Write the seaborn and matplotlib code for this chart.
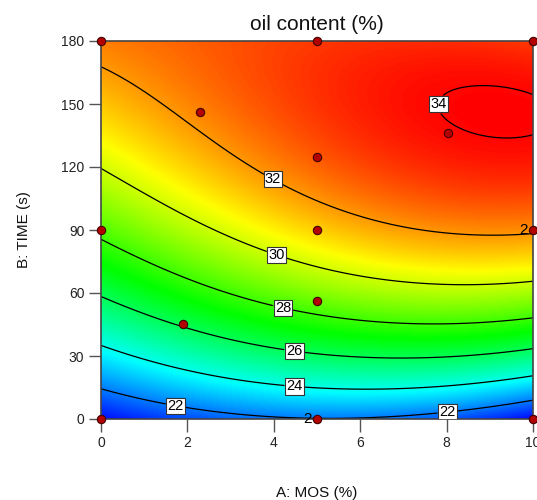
import numpy as np
import matplotlib
matplotlib.use("Agg")
import matplotlib.pyplot as plt
from matplotlib.colors import LinearSegmentedColormap
import pandas as pd
import seaborn as sns

# Factor ranges
mos_range = [0, 10]      # A: MOS (%)
time_range = [0, 180]    # B: TIME (s)

# Fitted response model in coded units (x = (A-5)/5, y = (B-90)/90)
model_terms = ["1", "x", "y", "xy", "x2", "y2", "x2y", "xy2", "x3", "y3"]
model_coefs = [31.223, 2.148, 5.581, 0.267, -1.016, -3.596, 0.533, -1.718, -0.233, 0.091]

contour_levels = [22, 24, 26, 28, 30, 32, 34]
label_spots = [(1.75, 8.6), (8.0, 7.0), (4.49, 17.5), (4.49, 35.0),
               (4.26, 57.0), (4.09, 80.0), (3.99, 114.6), (7.81, 150.0)]

# Design points (replicated runs counted in design_reps)
design_mos = [0, 5, 10, 1.89, 5, 0, 5, 10, 5, 8.04, 2.29, 0, 5, 10]
design_time = [0, 0, 0, 45.1, 56.2, 90, 90, 90, 124.6, 136, 146.2, 180, 180, 180]
design_reps = [1, 2, 1, 1, 1, 1, 1, 2, 1, 1, 1, 1, 1, 1]

xticks = [0, 2, 4, 6, 8, 10]
yticks = [0, 30, 60, 90, 120, 150, 180]

sns.set_theme(style="white")
plt.rcParams["font.family"] = ["Liberation Sans", "DejaVu Sans"]


def response(a, b):
    x = (a - 5) / 5
    y = (b - 90) / 90
    basis = {"1": np.ones_like(x), "x": x, "y": y, "xy": x * y,
             "x2": x ** 2, "y2": y ** 2, "x2y": x ** 2 * y,
             "xy2": x * y ** 2, "x3": x ** 3, "y3": y ** 3}
    return sum(c * basis[t] for t, c in zip(model_terms, model_coefs))


ga = np.linspace(mos_range[0], mos_range[1], 401)
gb = np.linspace(time_range[0], time_range[1], 401)
GA, GB = np.meshgrid(ga, gb)
Z = response(GA, GB)

cmap = LinearSegmentedColormap.from_list(
    "de", ["#0000ff", "#00ffff", "#00ff00", "#ffff00", "#ff0000"])

fig = plt.figure(figsize=(5.37, 5.0), dpi=100)
ax = fig.add_axes([101 / 537, 81 / 500, 432 / 537, 378 / 500])

ax.pcolormesh(GA, GB, Z, cmap=cmap, shading="gouraud",
              vmin=Z.min(), vmax=Z.max(), rasterized=True)
cs = ax.contour(GA, GB, Z, levels=contour_levels, colors="black",
                linewidths=0.9)
labels = ax.clabel(cs, fmt="%d", manual=label_spots, inline=True,
                   inline_spacing=2, fontsize=10.5)
for t in labels:
    t.set_rotation(0)
    t.set_bbox(dict(facecolor="white", edgecolor="#333333",
                    linewidth=0.8, pad=0.8))

pts = pd.DataFrame({"A": design_mos, "B": design_time, "reps": design_reps})
sns.scatterplot(data=pts, x="A", y="B", ax=ax, color="#b30000",
                edgecolor="#400000", linewidth=0.8, s=36, zorder=5,
                clip_on=False, legend=False)
for _, r in pts[pts["reps"] > 1].iterrows():
    ax.annotate(str(int(r["reps"])), (r["A"], r["B"]), xytext=(-4, 0),
                textcoords="offset points", ha="right", va="center",
                fontsize=11, color="black", zorder=6, annotation_clip=False)

ax.set_xlim(mos_range)
ax.set_ylim(time_range)
ax.set_xticks(xticks)
ax.set_yticks(yticks)
ax.tick_params(axis="both", direction="out", length=9, width=1,
               color="#555555", labelsize=10, labelcolor="#222222", pad=3,
               bottom=True, left=True)
for s in ax.spines.values():
    s.set_color("#444444")
    s.set_linewidth(1.2)

ax.set_title("oil content (%)", fontsize=15, pad=8, color="#111111")
ax.set_xlabel("A: MOS (%)", fontsize=11, labelpad=26, color="#111111")
ax.set_ylabel("B: TIME (s)", fontsize=11, labelpad=22, color="#111111")

fig.savefig("out.png", dpi=100)
